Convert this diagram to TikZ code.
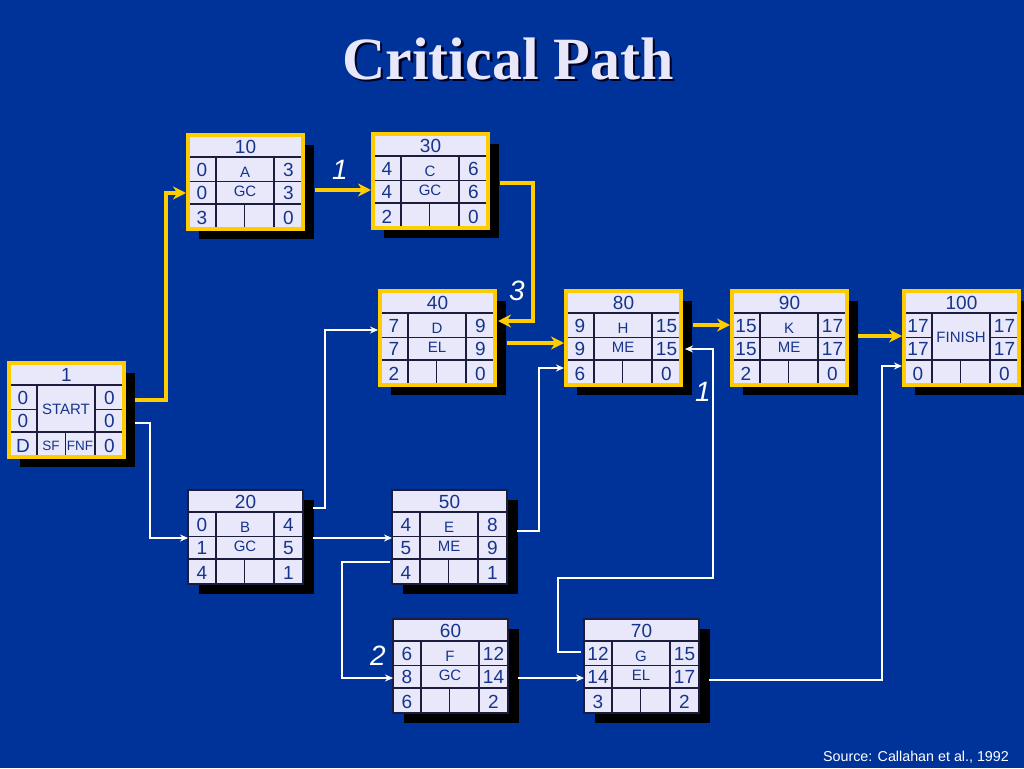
\documentclass[tikz,border=0pt]{standalone}
\usepackage{fontspec}
\setmainfont{Liberation Sans}
\newfontfamily\titleserif{Liberation Serif}
\usetikzlibrary{arrows.meta,shadows}
\definecolor{bgblue}{RGB}{0,51,153}
\definecolor{lav}{RGB}{232,232,250}
\definecolor{txtblue}{RGB}{22,52,140}
\definecolor{gridc}{RGB}{28,28,60}
\definecolor{critc}{RGB}{255,204,0}
\definecolor{titlec}{RGB}{232,232,250}
\tikzset{
  boxbase/.style={anchor=north west, minimum width=115pt, minimum height=94pt,
    inner sep=0pt, outer sep=0pt, fill=lav,
    drop shadow={opacity=1, fill=black, shadow xshift=11pt, shadow yshift=-10pt}},
  critbox/.style={boxbase, draw=critc, line width=4pt},
  normbox/.style={boxbase, draw=gridc, line width=1.2pt},
  critframe/.style={draw=critc, line width=4pt},
  normframe/.style={draw=gridc, line width=1.2pt},
  gridline/.style={draw=gridc, line width=1.2pt},
  num/.style={text=txtblue, font=\fontsize{19}{19}\selectfont, inner sep=0pt},
  lbl/.style={text=txtblue, font=\fontsize{15}{15}\selectfont, inner sep=0pt},
  small/.style={text=txtblue, font=\fontsize{13.5}{13.5}\selectfont, inner sep=0pt},
  critlink/.style={draw=critc, line width=4pt, -{Stealth[length=13pt,width=13pt]}},
  normlink/.style={draw=white, line width=1.3pt, -{Stealth[length=8pt,width=7pt]}},
  pathlbl/.style={text=white, font=\fontsize{28}{28}\selectfont\itshape, inner sep=0pt},
}
% grid of a box: #1 name, #2 frame style, #3 = 1 full middle row line, 0 split
\newcommand\cpgrid[3]{%
  \draw[gridline] ([shift={(0,22)}]#1.north west) -- ([shift={(115,22)}]#1.north west);
  \ifnum#3=1
    \draw[gridline] ([shift={(0,46.5)}]#1.north west) -- ([shift={(115,46.5)}]#1.north west);
  \else
    \draw[gridline] ([shift={(0,46.5)}]#1.north west) -- ([shift={(28,46.5)}]#1.north west);
    \draw[gridline] ([shift={(86,46.5)}]#1.north west) -- ([shift={(115,46.5)}]#1.north west);
  \fi
  \draw[gridline] ([shift={(0,69)}]#1.north west) -- ([shift={(115,69)}]#1.north west);
  \draw[gridline] ([shift={(28,22)}]#1.north west) -- ([shift={(28,94)}]#1.north west);
  \draw[gridline] ([shift={(86,22)}]#1.north west) -- ([shift={(86,94)}]#1.north west);
  \draw[gridline] ([shift={(56.5,69)}]#1.north west) -- ([shift={(56.5,94)}]#1.north west);
  \draw[#2] (#1.north west) rectangle (#1.south east);
}
% numbers: name, title, l1, r1, l2, r2, l3, r3
\newcommand\cpnums[8]{%
  \node[num] (#1-t)  at ([shift={(57.5,11.5)}]#1.north west) {#2};
  \node[num] (#1-l1) at ([shift={(14,35)}]#1.north west) {#3};
  \node[num] (#1-r1) at ([shift={(100.5,35)}]#1.north west) {#4};
  \node[num] (#1-l2) at ([shift={(14,58)}]#1.north west) {#5};
  \node[num] (#1-r2) at ([shift={(100.5,58)}]#1.north west) {#6};
  \node[num] (#1-l3) at ([shift={(14,83)}]#1.north west) {#7};
  \node[num] (#1-r3) at ([shift={(100.5,83)}]#1.north west) {#8};
}
% two-line middle labels
\newcommand\cpmid[3]{%
  \node[lbl] (#1-m1) at ([shift={(57,37.5)}]#1.north west) {#2};
  \node[lbl] (#1-m2) at ([shift={(57,56.5)}]#1.north west) {#3};
}
\begin{document}
\begin{tikzpicture}[x=1pt,y=-1pt]
\fill[bgblue] (0,0) rectangle (1024,768);
\useasboundingbox (0,0) rectangle (1024,768);

% title (with its shadow) and source
\node[text=titlec, font=\titleserif\bfseries\fontsize{60}{60}\selectfont, inner sep=0pt] (title) at (508,60)
  {\makebox[0pt][l]{\hspace{2.5pt}\raisebox{-2.5pt}{\color{black!85!blue}Critical Path}}Critical Path};
\node[text=white, font=\fontsize{14.3}{14.3}\selectfont, inner sep=0pt] (source) at (916,757) {Source: Callahan et al., 1992};

% boxes
\node[critbox] (n1) at (9,363) {};
\cpgrid{n1}{critframe}{0}
\cpnums{n1}{1}{0}{0}{0}{0}{D}{0}
\node[lbl] (n1-m) at ([shift={(57,46.5)}]n1.north west) {START};
\node[small] (n1-b1) at ([shift={(42,83)}]n1.north west) {SF};
\node[small] (n1-b2) at ([shift={(71,83)}]n1.north west) {FNF};

\node[critbox] (n10) at (188,135) {};
\cpgrid{n10}{critframe}{1}
\cpnums{n10}{10}{0}{3}{0}{3}{3}{0}
\cpmid{n10}{A}{GC}

\node[critbox] (n30) at (373,134) {};
\cpgrid{n30}{critframe}{1}
\cpnums{n30}{30}{4}{6}{4}{6}{2}{0}
\cpmid{n30}{C}{GC}

\node[critbox] (n40) at (380,291) {};
\cpgrid{n40}{critframe}{1}
\cpnums{n40}{40}{7}{9}{7}{9}{2}{0}
\cpmid{n40}{D}{EL}

\node[critbox] (n80) at (566,291) {};
\cpgrid{n80}{critframe}{1}
\cpnums{n80}{80}{9}{15}{9}{15}{6}{0}
\cpmid{n80}{H}{ME}

\node[critbox] (n90) at (732,291) {};
\cpgrid{n90}{critframe}{1}
\cpnums{n90}{90}{15}{17}{15}{17}{2}{0}
\cpmid{n90}{K}{ME}

\node[critbox] (n100) at (904,291) {};
\cpgrid{n100}{critframe}{0}
\cpnums{n100}{100}{17}{17}{17}{17}{0}{0}
\node[lbl] (n100-m) at ([shift={(57,46.5)}]n100.north west) {FINISH};

\node[normbox] (n20) at (188,490) {};
\cpgrid{n20}{normframe}{1}
\cpnums{n20}{20}{0}{4}{1}{5}{4}{1}
\cpmid{n20}{B}{GC}

\node[normbox] (n50) at (392,490) {};
\cpgrid{n50}{normframe}{1}
\cpnums{n50}{50}{4}{8}{5}{9}{4}{1}
\cpmid{n50}{E}{ME}

\node[normbox] (n60) at (393,619) {};
\cpgrid{n60}{normframe}{1}
\cpnums{n60}{60}{6}{12}{8}{14}{6}{2}
\cpmid{n60}{F}{GC}

\node[normbox] (n70) at (584,619) {};
\cpgrid{n70}{normframe}{1}
\cpnums{n70}{70}{12}{15}{14}{17}{3}{2}
\cpmid{n70}{G}{EL}

% critical connectors
\draw[critlink] ([shift={(11,37)}]n1.north east) -| ([shift={(-22,58)}]n10.north west) -- ([shift={(-2,58)}]n10.north west);
\draw[critlink] ([shift={(12,55)}]n10.north east) -- ([shift={(-2,56)}]n30.north west);
\draw[critlink] ([shift={(12,49)}]n30.north east) -| ([shift={(38,30)}]n40.north east) -- ([shift={(3,30)}]n40.north east);
\draw[critlink] ([shift={(12,52)}]n40.north east) -- ([shift={(-2,52)}]n80.north west);
\draw[critlink] ([shift={(12,34)}]n80.north east) -- ([shift={(-2,34)}]n90.north west);
\draw[critlink] ([shift={(11,45)}]n90.north east) -- ([shift={(-2,45)}]n100.north west);

% other connectors
\draw[normlink] ([shift={(11,60)}]n1.north east) -| ([shift={(-38,48)}]n20.north west) -- ([shift={(0,48)}]n20.north west);
\draw[normlink] ([shift={(10,18)}]n20.north east) -| ([shift={(-55,39)}]n40.north west) -- ([shift={(-2,39)}]n40.north west);
\draw[normlink] ([shift={(10,48)}]n20.north east) -- ([shift={(0,48)}]n50.north west);
\draw[normlink] ([shift={(10,41)}]n50.north east) -| ([shift={(-27,77)}]n80.north west) -- ([shift={(-2,77)}]n80.north west);
\draw[normlink] ([shift={(-2,72)}]n50.north west) -| ([shift={(-51,59)}]n60.north west) -- ([shift={(0,59)}]n60.north west);
\draw[normlink] ([shift={(10,59)}]n60.north east) -- ([shift={(0,59)}]n70.north west);
\draw[normlink] ([shift={(-3,33)}]n70.north west) -| ([shift={(-26,-41)}]n70.north west) -| ([shift={(32,58)}]n80.north east) -- ([shift={(4,58)}]n80.north east);
\draw[normlink] ([shift={(10,61)}]n70.north east) -| ([shift={(-22,75)}]n100.north west) -- ([shift={(-2,75)}]n100.north west);

% slack labels
\node[pathlbl] (s1) at (340,170) {1};
\node[pathlbl] (s3) at (517,291) {3};
\node[pathlbl] (s1b) at (703,392) {1};
\node[pathlbl] (s2) at (378,656) {2};
\end{tikzpicture}
\end{document}
